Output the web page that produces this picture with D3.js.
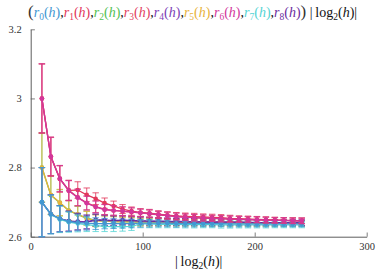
<!DOCTYPE html>
<html>
<head>
<meta charset="utf-8">
<script src="https://cdn.jsdelivr.net/npm/d3@7"></script>
<style>
body { margin: 0; background: #fff; }
svg { display: block; }
</style>
</head>
<body>
<svg id="chart"></svg>
<script>
// x positions (|log2 h|)
var logH = [10, 18, 26, 34, 42, 50, 58, 66, 74, 82, 90, 98, 106, 114, 122, 130, 138, 146, 154, 162, 170, 178, 186, 194, 202, 210, 218, 226, 234, 242];

var seriesNames = ["r0", "r1", "r2", "r3", "r4", "r5", "r6", "r7", "r8"];
var seriesColors = ["#4297d2", "#e2375a", "#52c152", "#e23f5f", "#7b3db5", "#e8b23a", "#d2369b", "#55d4d4", "#6a2c9e"];

var r0 = [2.700, 2.665, 2.652, 2.644, 2.641, 2.639, 2.638, 2.638, 2.638, 2.638, 2.638, 2.639, 2.639, 2.639, 2.639, 2.638, 2.638, 2.638, 2.638, 2.638, 2.638, 2.637, 2.637, 2.637, 2.637, 2.637, 2.637, 2.637, 2.637, 2.637];
var r1 = [3.000, 2.832, 2.768, 2.734, 2.735, 2.721, 2.710, 2.697, 2.689, 2.680, 2.674, 2.670, 2.668, 2.665, 2.662, 2.660, 2.659, 2.658, 2.657, 2.656, 2.655, 2.653, 2.652, 2.651, 2.650, 2.649, 2.648, 2.647, 2.647, 2.646];
var r2 = [2.800, 2.720, 2.698, 2.676, 2.664, 2.654, 2.647, 2.645, 2.644, 2.644, 2.643, 2.643, 2.642, 2.642, 2.642, 2.641, 2.641, 2.641, 2.640, 2.640, 2.640, 2.640, 2.640, 2.639, 2.639, 2.639, 2.639, 2.639, 2.639, 2.638];
var r3 = [3.000, 2.831, 2.767, 2.734, 2.714, 2.698, 2.687, 2.679, 2.676, 2.673, 2.671, 2.669, 2.666, 2.663, 2.661, 2.659, 2.657, 2.655, 2.654, 2.653, 2.652, 2.651, 2.650, 2.650, 2.649, 2.648, 2.648, 2.647, 2.646, 2.646];
var r4 = [2.700, 2.665, 2.652, 2.645, 2.644, 2.643, 2.649, 2.648, 2.647, 2.648, 2.647, 2.646, 2.645, 2.645, 2.644, 2.644, 2.644, 2.643, 2.643, 2.643, 2.643, 2.642, 2.642, 2.642, 2.641, 2.641, 2.641, 2.641, 2.641, 2.641];
var r5 = [2.800, 2.721, 2.699, 2.675, 2.665, 2.653, 2.646, 2.645, 2.644, 2.643, 2.643, 2.642, 2.643, 2.642, 2.642, 2.642, 2.641, 2.641, 2.641, 2.640, 2.640, 2.640, 2.640, 2.640, 2.639, 2.639, 2.639, 2.639, 2.639, 2.639];
var r6 = [3.000, 2.832, 2.768, 2.733, 2.713, 2.697, 2.686, 2.678, 2.676, 2.674, 2.672, 2.669, 2.667, 2.664, 2.661, 2.658, 2.656, 2.655, 2.654, 2.653, 2.652, 2.651, 2.650, 2.649, 2.649, 2.648, 2.647, 2.647, 2.646, 2.646];
var r7 = [2.700, 2.664, 2.650, 2.642, 2.638, 2.635, 2.632, 2.630, 2.629, 2.629, 2.630, 2.637, 2.637, 2.636, 2.636, 2.636, 2.635, 2.635, 2.635, 2.635, 2.634, 2.634, 2.634, 2.634, 2.634, 2.634, 2.634, 2.634, 2.634, 2.634];
var r8 = [2.700, 2.665, 2.652, 2.645, 2.643, 2.642, 2.648, 2.647, 2.646, 2.647, 2.646, 2.646, 2.645, 2.644, 2.644, 2.643, 2.643, 2.643, 2.643, 2.642, 2.642, 2.642, 2.642, 2.641, 2.641, 2.641, 2.641, 2.640, 2.640, 2.640];

// half width of the error bars, same for every series
var stdErr = [0.100, 0.056, 0.038, 0.029, 0.024, 0.020, 0.017, 0.015, 0.014, 0.013, 0.012, 0.011, 0.011, 0.010, 0.010, 0.010, 0.0095, 0.0095, 0.009, 0.009, 0.009, 0.009, 0.0085, 0.0085, 0.0085, 0.0085, 0.008, 0.008, 0.008, 0.008];

var xTicks = [0, 100, 200, 300];
var xTickLabels = ["0", "100", "200", "300"];
var xMinor = [20, 40, 60, 80, 120, 140, 160, 180, 220, 240, 260, 280];
var yTicks = [2.6, 2.8, 3, 3.2];
var yTickLabels = ["2.6", "2.8", "3", "3.2"];
var yMinor = [2.64, 2.68, 2.72, 2.76, 2.84, 2.88, 2.92, 2.96, 3.04, 3.08, 3.12, 3.16];

var allSeries = [r0, r1, r2, r3, r4, r5, r6, r7, r8];
// drawing order so the overlaps look right
var drawOrder = [2, 5, 4, 8, 7, 0, 1, 3, 6];

var width = 384, height = 272;
var svg = d3.select("#chart").attr("width", width).attr("height", height);

var x = d3.scaleLinear().domain([0, 300]).range([30.7, 366.7]);
var y = d3.scaleLinear().domain([2.6, 3.2]).range([236.7, 29.3]);

var serif = "'Liberation Serif', 'DejaVu Serif', serif";
var axisColor = "#5e5e5e";

// axes
var gx = svg.append("g").attr("transform", "translate(0," + y(2.6) + ")");
gx.call(d3.axisBottom(x).tickValues(xMinor).tickFormat("").tickSize(-2.2).tickSizeOuter(0));
gx.call(d3.axisBottom(x).tickValues(xTicks).tickFormat(function(d, i) { return xTickLabels[i]; })
    .tickSize(-4.2).tickSizeOuter(0).tickPadding(6));

var gy = svg.append("g").attr("transform", "translate(" + x(0) + ",0)");
gy.call(d3.axisLeft(y).tickValues(yMinor).tickFormat("").tickSize(-2.2).tickSizeOuter(0));
gy.call(d3.axisLeft(y).tickValues(yTicks).tickFormat(function(d, i) { return yTickLabels[i]; })
    .tickSize(-4.2).tickSizeOuter(0).tickPadding(9));

svg.selectAll("g").attr("font-family", serif);
svg.selectAll(".domain").attr("stroke", axisColor).attr("stroke-width", 1);
svg.selectAll(".tick line").attr("stroke", axisColor).attr("stroke-width", 0.8);
svg.selectAll(".tick text").attr("font-family", serif).attr("font-size", 10.5).attr("fill", "#333");

// series
var plot = svg.append("g");
drawOrder.forEach(function(si) {
    var vals = allSeries[si];
    var color = seriesColors[si];
    var pts = logH.map(function(h, i) { return { x: h, y: vals[i], e: stdErr[i] }; });
    var g = plot.append("g").attr("class", "series " + seriesNames[si]);

    var bars = g.append("g").attr("stroke", color).attr("stroke-opacity", 0.75).attr("stroke-width", 1.1);
    bars.selectAll("line.v").data(pts).enter().append("line")
        .attr("x1", function(d) { return x(d.x); }).attr("x2", function(d) { return x(d.x); })
        .attr("y1", function(d) { return y(d.y - d.e); }).attr("y2", function(d) { return y(d.y + d.e); });
    bars.selectAll("line.t").data(pts).enter().append("line")
        .attr("x1", function(d) { return x(d.x) - 3.2; }).attr("x2", function(d) { return x(d.x) + 3.2; })
        .attr("y1", function(d) { return y(d.y + d.e); }).attr("y2", function(d) { return y(d.y + d.e); });
    bars.selectAll("line.b").data(pts).enter().append("line")
        .attr("x1", function(d) { return x(d.x) - 3.2; }).attr("x2", function(d) { return x(d.x) + 3.2; })
        .attr("y1", function(d) { return y(d.y - d.e); }).attr("y2", function(d) { return y(d.y - d.e); });

    g.append("path").datum(pts)
        .attr("fill", "none").attr("stroke", color).attr("stroke-width", 1.3)
        .attr("d", d3.line().x(function(d) { return x(d.x); }).y(function(d) { return y(d.y); }));

    g.selectAll("circle").data(pts).enter().append("circle")
        .attr("cx", function(d) { return x(d.x); }).attr("cy", function(d) { return y(d.y); })
        .attr("r", 2.3).attr("fill", color);
});

// title
var title = svg.append("text").attr("x", 28).attr("y", 16.5)
    .attr("font-family", serif).attr("font-size", 14).attr("fill", "#111");
title.append("tspan").text("(").attr("font-size", 17).attr("fill", "#333");
seriesNames.forEach(function(n, i) {
    var c = seriesColors[i];
    title.append("tspan").text("r").attr("font-style", "italic").attr("fill", c);
    title.append("tspan").text(n.slice(1)).attr("font-size", 9.5).attr("dy", 3).attr("fill", c);
    title.append("tspan").text("(").attr("dy", -3).attr("fill", c);
    title.append("tspan").text("h").attr("font-style", "italic").attr("fill", c);
    title.append("tspan").text(")").attr("fill", c);
    if (i < seriesNames.length - 1) title.append("tspan").text(",").attr("fill", "#111");
});
title.append("tspan").text(")").attr("font-size", 17).attr("fill", "#333");
title.append("tspan").text(" |\u2009log").attr("fill", "#111");
title.append("tspan").text("2").attr("font-size", 9.5).attr("dy", 3);
title.append("tspan").text("(").attr("dy", -3);
title.append("tspan").text("h").attr("font-style", "italic");
title.append("tspan").text(")|");

// x axis label
var xl = svg.append("text").attr("x", x(150)).attr("y", 266).attr("text-anchor", "middle")
    .attr("font-family", serif).attr("font-size", 14).attr("fill", "#111");
xl.append("tspan").text("|\u2009log");
xl.append("tspan").text("2").attr("font-size", 9.5).attr("dy", 3);
xl.append("tspan").text("(").attr("dy", -3);
xl.append("tspan").text("h").attr("font-style", "italic");
xl.append("tspan").text(")|");
</script>
</body>
</html>
